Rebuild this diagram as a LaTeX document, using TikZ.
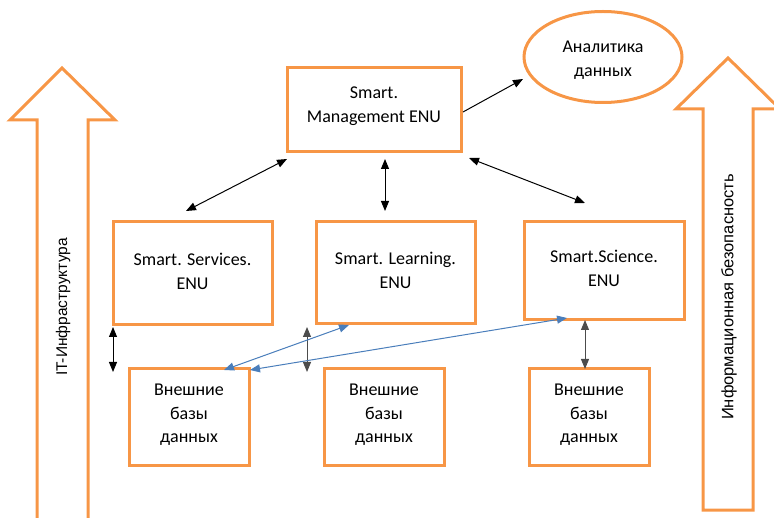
\documentclass[tikz,border=0pt]{standalone}
\usepackage{fontspec}
\setmainfont{Carlito}
\newfontfamily\arialf{Liberation Sans}
\usetikzlibrary{arrows.meta,shapes.geometric}
\definecolor{org}{HTML}{F79646}
\definecolor{blu}{HTML}{4A7EBB}
\tikzset{
  box/.style={draw=org,line width=3pt,rectangle},
  txt/.style={align=center,font=\fontsize{18}{23.5}\selectfont},
  barrow/.style={draw=org,line width=3pt,line join=miter},
  conn/.style={black,line width=1pt,{Triangle[length=10pt,width=8pt]}-{Triangle[length=10pt,width=8pt]}},
  bconn/.style={blu,line width=1pt,{Triangle[length=10pt,width=8pt]}-{Triangle[length=10pt,width=8pt]}},
  oneway/.style={black,line width=1pt,-{Triangle[length=10pt,width=8pt]}},
  vtext/.style={rotate=90,font=\arialf\fontsize{16}{18}\selectfont}
}
\begin{document}
\begin{tikzpicture}[x=1pt,y=-1pt]
\useasboundingbox (0,0) rectangle (774,518);
% block arrows
\draw[barrow] (37,530) -- (37,120) -- (10,120) -- (62,68) -- (115,120) -- (88,120) -- (88,530);
\node[vtext,font=\arialf\fontsize{15.5}{18}\selectfont] (itinf) at (63,307) {IT-Инфраструктура};
\draw[barrow] (703,510) -- (703,109) -- (676,109) -- (728,58) -- (780,109) -- (753,109) -- (753,510) -- cycle;
\node[vtext,font=\arialf\fontsize{16.5}{18}\selectfont] (infsec) at (729,297) {Информационная безопасность};
% nodes
\node[box,minimum width=174pt,minimum height=84pt] (mgmt) at (374,110) {};
\node[txt] (mgmtt) at ([yshift=4pt]mgmt.center) {Smart.\\Management ENU};
\node[box,ellipse,minimum width=158pt,minimum height=91pt,inner sep=0pt] (anal) at (603,57) {};
\node[txt] (analt) at ([yshift=-3pt]anal.center) {Аналитика\\данных};
\node[box,minimum width=159pt,minimum height=103pt] (serv) at (192.5,273.5) {};
\node[txt] (servt) at ([yshift=2pt]serv.center) {Smart. Services.\\ENU};
\node[box,minimum width=159pt,minimum height=102pt] (learn) at (395.5,273) {};
\node[txt] (learnt) at ([yshift=2.5pt]learn.center) {Smart. Learning.\\ENU};
\node[box,minimum width=160pt,minimum height=98pt] (sci) at (604,271) {};
\node[txt] (scit) at ([yshift=2.5pt]sci.center) {Smart.Science.\\ENU};
\node[box,minimum width=120pt,minimum height=97pt] (ext1) at (189,417.5) {};
\node[txt] (ext1t) at ([yshift=2.5pt]ext1.center) {Внешние\\базы\\данных};
\node[box,minimum width=120pt,minimum height=97pt] (ext2) at (384,417.5) {};
\node[txt] (ext2t) at ([yshift=2.5pt]ext2.center) {Внешние\\базы\\данных};
\node[box,minimum width=120pt,minimum height=97pt] (ext3) at (589,417.5) {};
\node[txt] (ext3t) at ([yshift=2.5pt]ext3.center) {Внешние\\базы\\данных};
% connector end points
\coordinate (m1) at (463,112);
\coordinate (a1) at (523,79);
\coordinate (ms) at (287,159);
\coordinate (s1) at (186,211);
\coordinate (ml) at (385,159);
\coordinate (l1) at (385,211);
\coordinate (mc) at (469,158);
\coordinate (c1) at (585,203);
\coordinate (sa) at (113,327);
\coordinate (sb) at (113,372);
\coordinate (la) at (307,327);
\coordinate (lb) at (307,372);
\coordinate (ca) at (585,320);
\coordinate (cb) at (585,369);
\coordinate (e1a) at (224,370);
\coordinate (l2) at (349,325);
\coordinate (e1b) at (250,370);
\coordinate (c2) at (567,318);
% connectors
\draw[oneway] (m1) -- (a1);
\draw[conn] (ms) -- (s1);
\draw[conn] (ml) -- (l1);
\draw[conn] (mc) -- (c1);
\draw[conn] (sa) -- (sb);
\draw[conn,draw=black!70] (la) -- (lb);
\draw[conn,draw=black!70] (ca) -- (cb);
\draw[bconn] (e1a) -- (l2);
\draw[bconn] (e1b) -- (c2);
\end{tikzpicture}
\end{document}
